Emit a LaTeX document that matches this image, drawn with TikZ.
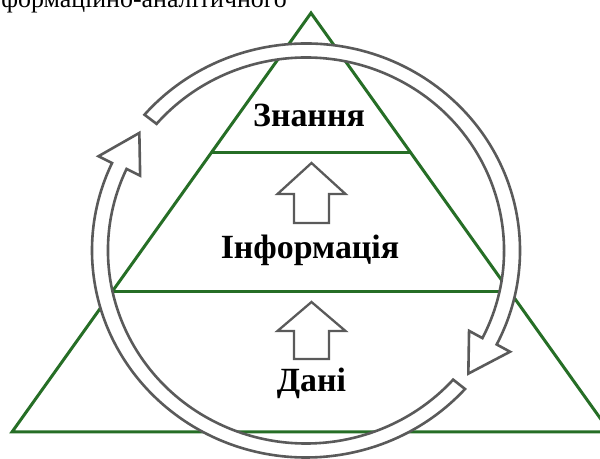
\documentclass[tikz,border=0pt]{standalone}
\usepackage{fontspec}
\setmainfont{Liberation Serif}
\usetikzlibrary{calc}
\definecolor{tgreen}{RGB}{38,110,38}
\definecolor{rgray}{RGB}{90,90,90}
\tikzset{
  greenline/.style={draw=tgreen, line width=3bp},
  ringstyle/.style={draw=rgray, fill=white, line width=2.6bp, line join=miter},
  blockarrow/.style={draw=rgray, fill=white, line width=2.3bp, line join=miter},
  lbl/.style={font=\bfseries\fontsize{34}{38}\selectfont, anchor=base, inner sep=0pt},
  toptext/.style={font=\fontsize{26}{30}\selectfont, anchor=base east, inner sep=0pt}
}
\newcommand\ringarrow[3]{%
  \draw[ringstyle] ($(C)+(#1:214bp and 207bp)$)
    arc[start angle=#1, end angle=#2, x radius=214bp, y radius=207bp]
    -- ($(C)+(#2:229bp and 223bp)$)
    -- ($(C)+(#3:206bp and 200bp)$)
    -- ($(C)+(#2:183bp and 177bp)$)
    -- ($(C)+(#2:198bp and 193bp)$)
    arc[start angle=#2, end angle=#1, x radius=198bp, y radius=193bp]
    -- cycle;}
\begin{document}
\begin{tikzpicture}[x=1bp,y=1bp]
\useasboundingbox (0,0) rectangle (600,459);
% triangle
\coordinate (A) at (311,446);
\coordinate (BL) at (12,27);
\coordinate (BR) at (610,27);
\coordinate (L1) at (211.1,306);
\coordinate (R1) at (410.9,306);
\coordinate (L2) at (111.9,167);
\coordinate (R2) at (510.1,167);
\draw[greenline] (BL) -- (A) -- (BR) -- cycle;
\draw[greenline] (L1) -- (R1);
\draw[greenline] (L2) -- (R2);
% ring arrows
\coordinate (C) at (306,208.5);
\ringarrow{139}{-27}{-38}
\ringarrow{-42}{-205}{-216}
% block arrows
\draw[blockarrow] (311.5,296) -- (345.5,265) -- (329,265) -- (329,236) -- (294,236) -- (294,265) -- (277.5,265) -- cycle;
\draw[blockarrow] (311.5,157) -- (345.5,128) -- (329,128) -- (329,100) -- (294,100) -- (294,128) -- (277.5,128) -- cycle;
% labels
\node[lbl] (zn) at (309,332) {Знання};
\node[lbl] (inf) at (310,200) {Інформація};
\node[lbl] (dani) at (311.5,67) {Дані};
\node[toptext] (top) at (287,451.5) {формаційно-аналітичного};
\end{tikzpicture}
\end{document}
